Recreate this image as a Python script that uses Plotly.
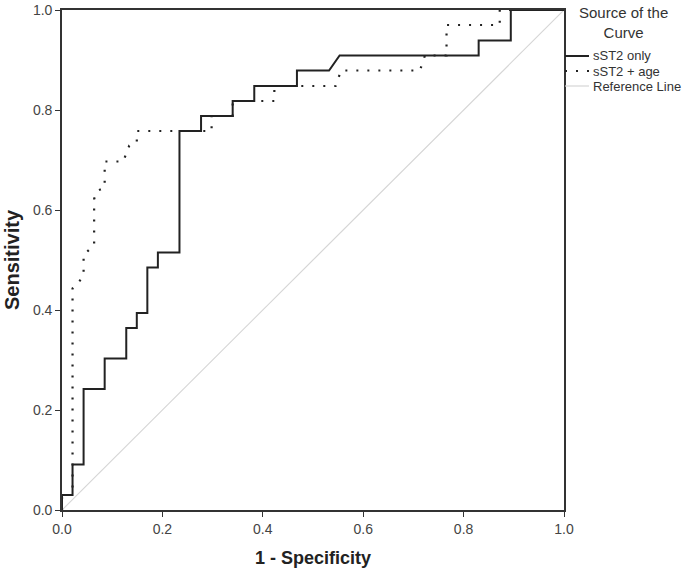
import plotly.graph_objects as go

# ROC curve: sST2 only (step curve)
sst2_fpr = [0.0, 0.0, 0.021, 0.021, 0.043, 0.043, 0.085, 0.085, 0.128, 0.128,
            0.149, 0.149, 0.170, 0.170, 0.191, 0.191, 0.234, 0.234, 0.277, 0.277,
            0.340, 0.340, 0.383, 0.383, 0.468, 0.468, 0.532, 0.553, 0.830, 0.830,
            0.894, 0.894, 1.0]
sst2_tpr = [0.0, 0.030, 0.030, 0.091, 0.091, 0.242, 0.242, 0.303, 0.303, 0.364,
            0.364, 0.394, 0.394, 0.485, 0.485, 0.515, 0.515, 0.758, 0.758, 0.788,
            0.788, 0.818, 0.818, 0.848, 0.848, 0.879, 0.879, 0.909, 0.909, 0.939,
            0.939, 1.0, 1.0]

# ROC curve: sST2 + age
age_fpr = [0.0, 0.0, 0.021, 0.021, 0.043, 0.043, 0.064, 0.064, 0.070, 0.085,
           0.085, 0.122, 0.128, 0.134, 0.149, 0.149, 0.298, 0.298, 0.340, 0.340,
           0.423, 0.423, 0.545, 0.556, 0.713, 0.723, 0.766, 0.766, 0.872, 0.872,
           1.0]
age_tpr = [0.0, 0.030, 0.030, 0.443, 0.467, 0.510, 0.530, 0.622, 0.638, 0.645,
           0.697, 0.697, 0.713, 0.729, 0.735, 0.758, 0.758, 0.788, 0.788, 0.818,
           0.818, 0.848, 0.848, 0.879, 0.879, 0.909, 0.909, 0.970, 0.970, 1.0,
           1.0]

# Reference (diagonal) line
ref_x = [0.0, 1.0]
ref_y = [0.0, 1.0]

tick_vals = [0.0, 0.2, 0.4, 0.6, 0.8, 1.0]
tick_text = ["0.0", "0.2", "0.4", "0.6", "0.8", "1.0"]

legend_title = "Source of the<br>Curve"
legend_names = ["sST2 only", "sST2 + age", "Reference Line"]

FONT = "Liberation Sans, Arial, sans-serif"
DARK = "#222222"
DOT = "2px,9px"

fig = go.Figure()
fig.add_trace(go.Scatter(x=ref_x, y=ref_y, mode="lines", name=legend_names[2],
                         line=dict(color="#d6d6d6", width=1.2), showlegend=False))
fig.add_trace(go.Scatter(x=age_fpr, y=age_tpr, mode="lines", name=legend_names[1],
                         line=dict(color=DARK, width=2.2, dash=DOT), showlegend=False))
fig.add_trace(go.Scatter(x=sst2_fpr, y=sst2_tpr, mode="lines", name=legend_names[0],
                         line=dict(color=DARK, width=2), showlegend=False))

W, H = 685, 572
PL, PT, PR, PB = 62, 10, 564, 510          # plot area in window pixels
L, T, R, B = PL, PT, W - PR, H - PB
pw, ph = PR - PL, PB - PT


def px_x(px):
    return (px - PL) / pw


def px_y(py):
    return (PB - py) / ph


axis_common = dict(
    range=[0, 1], tickvals=tick_vals, ticktext=tick_text, automargin=False,
    showgrid=False, zeroline=False, showline=True, mirror=True,
    linecolor="#333333", linewidth=1.6, ticks="outside", ticklen=5,
    tickwidth=1.2, tickcolor="#333333",
    tickfont=dict(family=FONT, size=14, color="#444444"),
)

fig.update_layout(
    width=W, height=H,
    margin=dict(l=L, r=R, t=T, b=B, autoexpand=False),
    paper_bgcolor="white", plot_bgcolor="white",
    xaxis=dict(**axis_common,
               title=dict(text="<b>1 - Specificity</b>", standoff=16,
                          font=dict(family=FONT, size=18, color=DARK))),
    yaxis=dict(**axis_common,
               title=dict(text="<b>Sensitivity</b>", standoff=8,
                          font=dict(family=FONT, size=20, color=DARK))),
    showlegend=False,
)

# Legend drawn in paper space
fig.add_annotation(x=px_x(623), y=px_y(2), xref="paper", yref="paper",
                   text=legend_title, showarrow=False, xanchor="center", yanchor="top",
                   font=dict(family=FONT, size=15, color="#333333"), align="center")

item_y = [56, 71, 86]
styles = [dict(color=DARK, width=2), dict(color=DARK, width=2.2, dash=DOT),
          dict(color="#d6d6d6", width=1.2)]
for name, yy, st in zip(legend_names, item_y, styles):
    fig.add_shape(type="line", xref="paper", yref="paper",
                  x0=px_x(565), x1=px_x(589), y0=px_y(yy), y1=px_y(yy), line=st)
    fig.add_annotation(x=px_x(591), y=px_y(yy), xref="paper", yref="paper",
                       text=name, showarrow=False, xanchor="left", yanchor="middle",
                       font=dict(family=FONT, size=13, color="#333333"))

# remove the default 8px page margin so the figure fills the window exactly
fig.write_html("out.html", config={"displayModeBar": False},
               post_script="document.body.style.margin='0';")
